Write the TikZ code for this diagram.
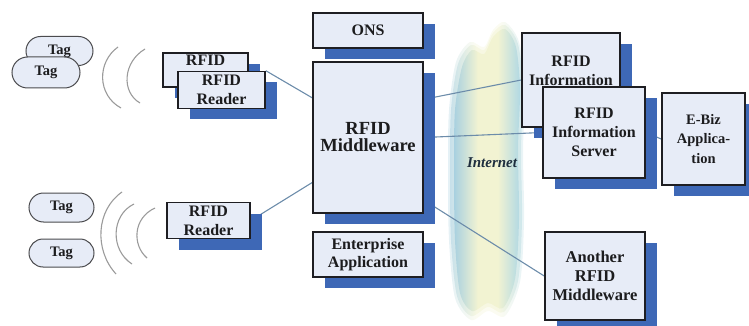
\documentclass[tikz,border=0pt]{standalone}
\usepackage{fontspec}
\setmainfont{Liberation Serif}
\usetikzlibrary{shapes.misc,shadows,calc}
\definecolor{boxfill}{RGB}{231,236,247}
\definecolor{boxedge}{RGB}{30,30,34}
\definecolor{shadeblue}{RGB}{62,104,182}
\definecolor{linkcol}{RGB}{108,140,170}
\definecolor{wavecol}{RGB}{155,155,155}
\definecolor{txt}{RGB}{28,28,30}
\definecolor{netleft}{RGB}{168,208,224}
\definecolor{netmid}{RGB}{242,243,210}
\definecolor{netright}{RGB}{176,216,228}
\definecolor{nettext}{RGB}{30,46,62}
% blue rims with a broad pale band across the middle
\pgfdeclarehorizontalshading{netband}{100bp}{color(0bp)=(netleft); color(25bp)=(netleft);
  color(43bp)=(netmid); color(58bp)=(netmid); color(75bp)=(netright); color(100bp)=(netright)}
\pgfdeclarelayer{bg}
\pgfsetlayers{bg,main}
\tikzset{
  box/.style={draw=boxedge, line width=1.6pt, fill=boxfill, text=txt, align=center,
    inner sep=0pt, font=\bfseries\fontsize{16}{19}\selectfont,
    general shadow={shadow xshift=12pt, shadow yshift=-11pt, fill=shadeblue}},
  tagbox/.style={rounded rectangle, draw=boxedge!80, line width=1pt, fill=boxfill,
    text=txt, inner sep=0pt, font=\bfseries\fontsize{14.5}{17}\selectfont},
  link/.style={draw=linkcol, line width=1.1pt},
  wave/.style={draw=wavecol, line width=1.1pt},
  netshade/.style={shading=netband},
}
\begin{document}
\begin{tikzpicture}[x=1pt,y=-1pt]
\useasboundingbox (0,0) rectangle (749,326);

% Internet cloud, with a soft rim
\begin{pgfonlayer}{bg}
  \path[netshade, opacity=0.3]
    plot[smooth cycle] coordinates {(505,22) (519,42) (525,90) (523,150) (524,220) (520,282)
      (505,316) (488,311) (471,320) (455,298) (449,240) (448,170) (449,110) (456,62)
      (470,42) (484,47) (493,30)};
  \path[netshade, opacity=0.5]
    plot[smooth cycle] coordinates {(505,25) (518,44) (523,90) (521,150) (522,220) (518,281)
      (504,312) (488,307) (471,316) (457,296) (451,240) (450,170) (451,110) (458,64)
      (471,45) (484,50) (493,33)};
  \path[netshade]
    plot[smooth cycle] coordinates {(505,29) (516,47) (520,90) (518,150) (519,220) (515,279)
      (503,308) (488,303) (472,311) (460,293) (455,240) (454,170) (455,110) (462,67)
      (472,50) (484,54) (493,37)};
\end{pgfonlayer}
\node[font=\bfseries\itshape\fontsize{15}{17}\selectfont, text=nettext] (net) at (492,163) {Internet};

% Tags
\node[tagbox, minimum width=67, minimum height=29] (tag1) at (59.5,51) {Tag};
\node[tagbox, minimum width=68, minimum height=31] (tag2) at (46,72.5) {Tag};
\node[tagbox, minimum width=65, minimum height=29] (tag3) at (61.5,207.5) {Tag};
\node[tagbox, minimum width=65, minimum height=28] (tag4) at (61.5,253) {Tag};

% Radio waves
\draw[wave] (118,47) .. controls (97,62) and (97,95) .. (121,108);
\draw[wave] (145,49) .. controls (123,62) and (121,92) .. (140,103);
\draw[wave] (122,192) .. controls (96,210) and (94,250) .. (116,274);
\draw[wave] (134,204) .. controls (111,215) and (110,250) .. (132,264);
\draw[wave] (155,208) .. controls (133,218) and (132,245) .. (147,258);

% Readers
\node[box, minimum width=85, minimum height=34] (reader1) at (205.5,70) {RFID\\\vphantom{Reader}};
\node[box, minimum width=87, minimum height=37] (reader2) at (221.5,90) {RFID\\Reader};
\node[box, minimum width=83, minimum height=36] (reader3) at (208.5,220.5) {RFID\\Reader};

% Middleware column
\node[box, minimum width=110, minimum height=35] (ons) at (368,30.5) {ONS};
\node[box, minimum width=110, minimum height=151,
      font=\bfseries\fontsize{18.5}{17}\selectfont] (mw) at (368,137.5) {RFID\\Middleware};
\node[box, minimum width=110, minimum height=45,
      font=\bfseries\fontsize{16}{18}\selectfont] (ent) at (368,254.5) {Enterprise\\Application};

% Information servers and applications
\node[box, minimum width=98, minimum height=94] (info1) at (571,80) {RFID\\Information\\\vphantom{Server}};
\node[box, minimum width=102, minimum height=91] (info2) at (594,132.5) {RFID\\Information\\Server};
\node[box, minimum width=83, minimum height=92,
      font=\bfseries\fontsize{14.5}{19.5}\selectfont] (ebiz) at (703.5,139) {E-Biz\\Applica-\\tion};
\node[box, minimum width=100, minimum height=88,
      font=\bfseries\fontsize{16.5}{19}\selectfont] (another) at (595,276) {Another\\RFID\\Middleware};

% Connectors
\begin{pgfonlayer}{bg}
  \draw[link] (reader2.north east) -- ($(mw.north west)!0.24!(mw.south west)$);
  \draw[link] (reader3.east) -- ($(mw.north west)!0.795!(mw.south west)$);
  \draw[link] ($(mw.north east)!0.25!(mw.south east)$) -- (info1.west);
  \draw[link] (mw.east) -- (info2.west);
  \draw[link] ($(mw.north east)!0.91!(mw.south east)$) -- (another.west);
  \draw[link] (info2.east) -- (ebiz.west);
\end{pgfonlayer}
\end{tikzpicture}
\end{document}
